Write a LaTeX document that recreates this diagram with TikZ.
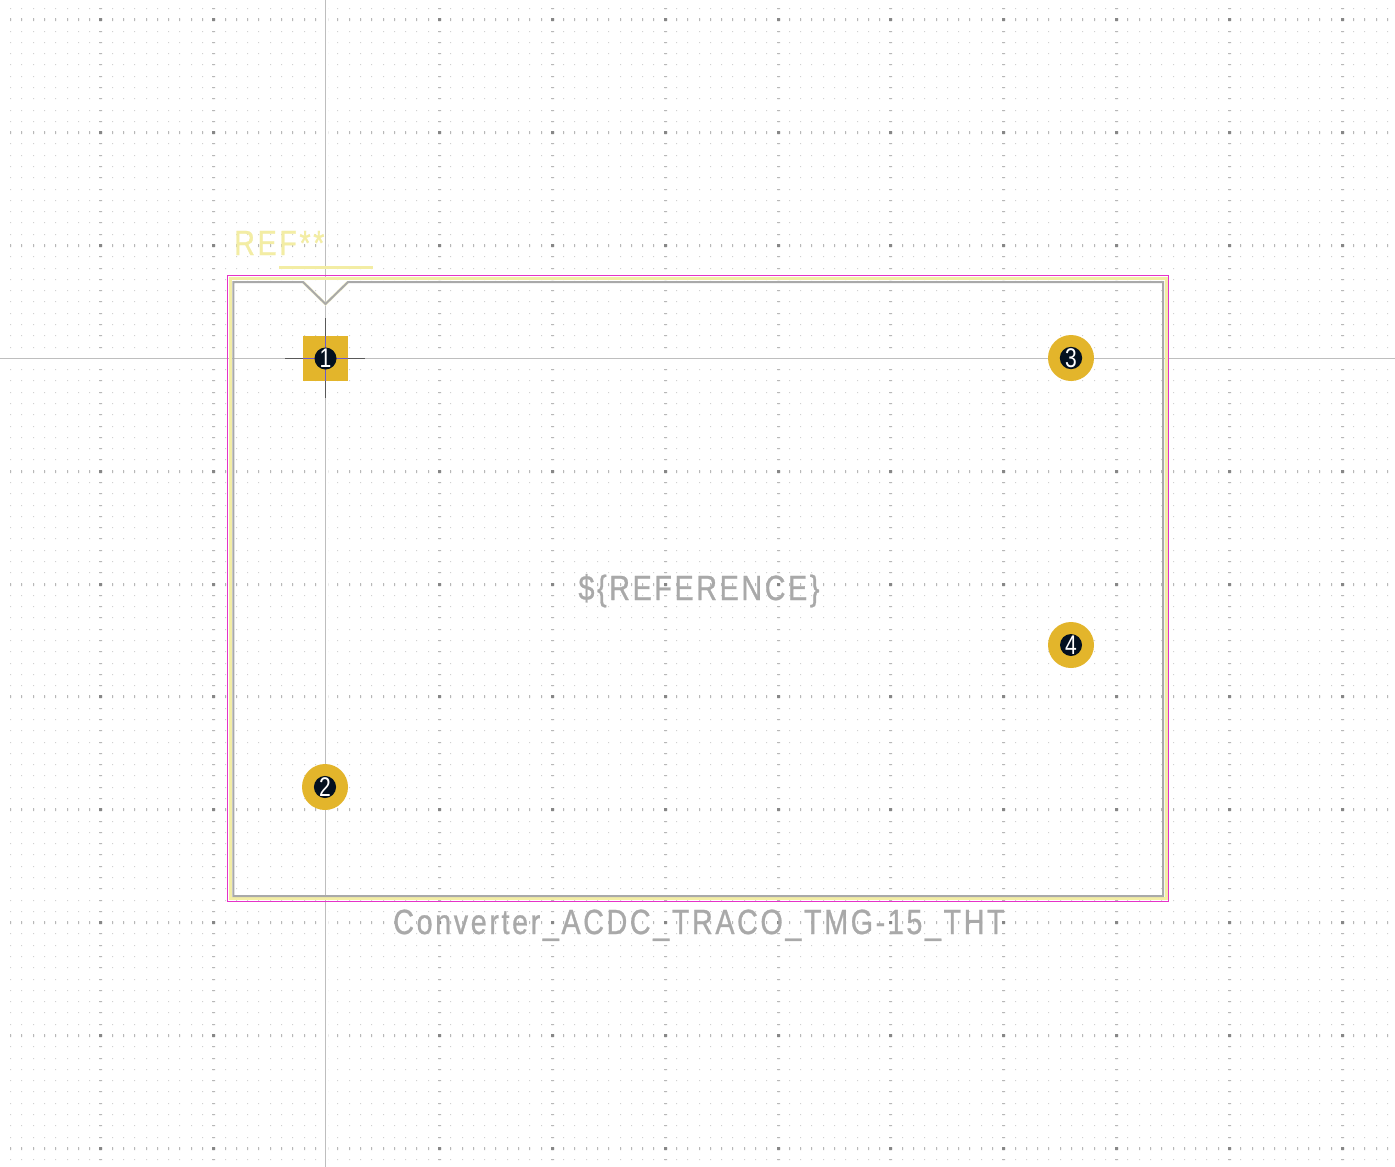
\documentclass[tikz,border=0pt]{standalone}
\usepackage{fontspec}
\setmainfont{Liberation Sans}
\newfontfamily\fpfont[LetterSpace=7.5,FakeStretch=0.82,FakeBold=0.8]{Liberation Sans}
\newfontfamily\numfont[FakeStretch=0.78]{Liberation Sans}
\usepackage{tikz}
\usetikzlibrary{calc}
\definecolor{padgold}{HTML}{E3B52B}
\definecolor{holedark}{HTML}{03101F}
\definecolor{silkpale}{HTML}{F3EDA4}
\definecolor{fabgray}{HTML}{A9A9A9}
\definecolor{crtmagenta}{HTML}{E632C8}
\definecolor{axisgray}{HTML}{BEBEBE}
\definecolor{anchorviolet}{HTML}{6A5ACD}
\tikzset{roundpad/.style={circle,fill=padgold,minimum size=46pt,inner sep=0pt}}
\tikzset{squarepad/.style={rectangle,fill=padgold,minimum size=45.5pt,inner sep=0pt}}
\tikzset{drillhole/.style={circle,fill=holedark,minimum size=22pt,inner sep=0pt,text=white,font=\numfont\fontsize{27}{27}\selectfont}}
\tikzset{fabtext/.style={text=fabgray,inner sep=0pt,anchor=base,font=\fpfont\fontsize{35}{35}\selectfont}}
\newcommand{\gx}[1]{round(10.1+11.286*#1)}
\newcommand{\gy}[1]{round(8+11.286*#1)}

\begin{document}
\begin{tikzpicture}
[x=1pt, y=-1pt]
\useasboundingbox (0,0) rectangle (1395,1167);
\fill[white] (0,0) rectangle (1395,1167);

% grid
\foreach \i in {0,...,122} {
  \fill[black!18] \foreach \j in {0,...,102} {({\gx{\i}},{\gy{\j}}) rectangle +(1,1)};
  \fill[black!28] \foreach \j in {1,11,...,101} {({\gx{\i}},{\gy{\j}-1}) rectangle +(1,3)};
}
\foreach \i in {8,18,...,118} {
  \fill[black!28] \foreach \j in {0,...,102} {({\gx{\i}-1},{\gy{\j}}) rectangle +(3,1)};
  \fill[black!47] \foreach \j in {1,11,...,101} {({\gx{\i}-1},{\gy{\j}-1}) rectangle +(3,3)};
}

% axes
\coordinate (axisl) at (0,358.5);
\coordinate (axisr) at (1395,358.5);
\coordinate (axist) at (325.5,0);
\coordinate (axisb) at (325.5,1167);
\draw[white, line width=5pt] (axisl) -- (axisr);
\draw[white, line width=5pt] (axist) -- (axisb);
\draw[axisgray, line width=1.2pt] (axisl) -- (axisr);
\draw[axisgray, line width=1.2pt] (axist) -- (axisb);

% outlines
\draw[silkpale, line width=3.2pt] (230.6,278.4) rectangle (1166.4,898.2);
\draw[crtmagenta, line width=1pt] (227.8,275.8) rectangle (1168.4,901.2);
\draw[silkpale!60, line width=2.8pt] (303,282) -- (325.5,304) -- (348,282);
\draw[fabgray, line width=2pt] (233.3,282) -- (303,282) -- (325.5,304) -- (348,282)
  -- (1163,282) -- (1163,896) -- (233.3,896) -- cycle;
\coordinate (refa) at (279,267.5);
\coordinate (refb) at (373,267.5);
\draw[silkpale, line width=3pt] (refa) -- (refb);

% pads
\node (pad1) at (325.5,358.5)[squarepad]{};
\node (pad2) at (325,787)[roundpad]{};
\node (pad3) at (1071,358)[roundpad]{};
\node (pad4) at (1071,645)[roundpad]{};

% anchor
\coordinate (ancl) at (285,358.5);
\coordinate (ancr) at (365,358.5);
\coordinate (anct) at (325.5,318);
\coordinate (ancb) at (325.5,398);
\draw[black!65, line width=1pt] (ancl) -- (ancr);
\draw[black!65, line width=1pt] (anct) -- (ancb);
\draw[anchorviolet, line width=1pt] (pad1.west) -- (pad1.east);
\draw[anchorviolet, line width=1pt] (pad1.north) -- (pad1.south);

\node (hole1) at (pad1)[drillhole]{1};
\node (hole2) at (pad2)[drillhole]{2};
\node (hole3) at (pad3)[drillhole]{3};
\node (hole4) at (pad4)[drillhole]{4};

% texts
\node (refname) at (234,255)[fabtext, anchor=base west, text=silkpale]{REF**};
\node (refval) at (699,600)[fabtext]{\$\{REFERENCE\}};
\node (value) at (699,934)[fabtext]{Converter\_ACDC\_TRACO\_TMG-15\_THT};
\end{tikzpicture}
\end{document}
